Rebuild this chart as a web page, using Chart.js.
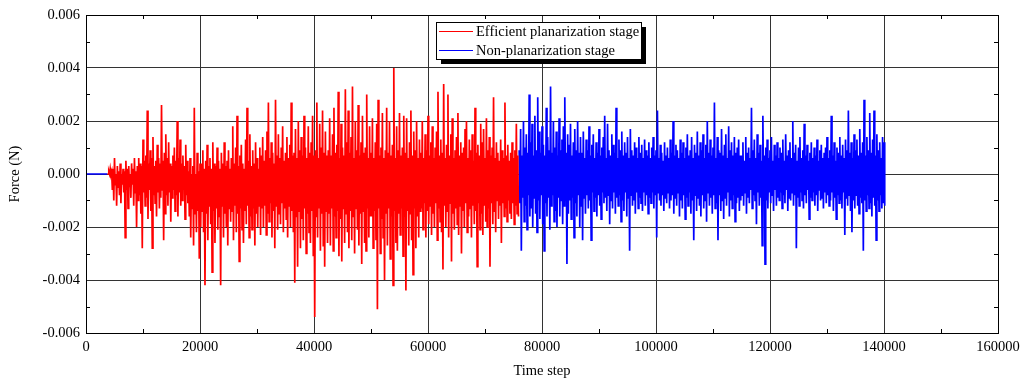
<!DOCTYPE html>
<html lang="en">
<head>
    <meta charset="UTF-8">
    <title>Force vs time step</title>
    <script src="https://cdn.jsdelivr.net/npm/chart.js"></script>
    <style>
        body { margin: 0; background: #fff; }
        canvas { display: block; }
    </style>
</head>
<body>
    <canvas id="forceChart" width="1030" height="383"></canvas>

    <script>
        // time axis sampling: each bin holds the local max and min of the signal
        const redStart = 3750;
        const blueStart = 76000;
        const binStep = 250;

        // force values, in units of 1e-4 N
        const redHigh = [
            0, 1, 2,
            1, 2, 6, 0, 3, 1, 4, 0, 2, 1, 5, 2, 3, 0, 4, 2, 6, 1, 3,
            6, 4, 3, 13, 5, 7, 24, 4, 9, 6, 14, 3, 5, 11, 6, 4, 26, 5, 8, 15, 6, 12, 4, 3,
            7, 10, 5, 20, 6, 13, 4, 7, 3, 11, 5,
            1, 6, 0, 3, 25, 0, 8, 1, 4,
            4, 9, 2, 5, 11, 3, 6, 2, 12, 4, 3, 10, 5, 2, 8, 4, 12, 3, 5, 9,
            2, 6, 18, 4, 10, 22, 3, 7, 11, 4, 2, 13, 25, 5, 15, 3, 9, 4, 12, 6, 2, 10,
            7, 14, 5, 9, 16, 27, 6, 12, 8, 4, 28, 7, 15, 6, 10, 18, 5, 8, 14, 6, 11, 27, 7,
            8, 17, 6, 20, 9, 14, 7, 22, 10, 6, 18, 8, 12, 22, 7, 9, 27, 6, 19, 10, 24, 8, 16, 7,
            9, 21, 7, 15, 25, 8, 11, 31, 6, 19, 10, 7, 32, 12, 24, 8, 14, 33, 6, 20,
            9, 26, 7, 12, 22, 8, 10, 30, 6, 18,
            8, 21, 6, 12, 19, 28, 7, 10, 23, 6, 9, 25, 8, 20, 7, 11, 40, 6, 18, 9,
            23, 7, 10, 22, 8, 21, 6, 12, 24, 7, 16, 9, 20, 6, 13,
            8, 20, 6, 15, 9, 22, 7, 12, 18, 6, 10, 16, 31, 7, 13, 8, 34, 6, 11, 30,
            7, 15, 21, 6, 9, 14, 23, 7, 12, 8, 10, 17, 20, 6, 13, 9, 15, 5, 25, 8,
            11, 7, 19, 12, 17, 6, 21, 9, 14, 7, 10, 29, 6, 12, 8, 5, 13, 9, 6, 27,
            7, 11, 5, 8, 12, 6, 9, 19, 7
        ];
        const redLow = [
            0, 0, 0,
            -6, -10, -4, -12, -5, -8, -11, -4, -7, -24, -6, -13, -5, -9, -4, -12, -7, -20, -10,
            -8, -15, -28, -7, -12, -9, -17, -6, -14, -28, -8, -11, -16, -7, -13, -9, -6, -25, -15, -8,
            -12, -7, -18, -9, -6, -14, -8, -16, -7, -12, -10, -6, -17, -8, -11,
            -16, -24, -13, -27, -15, -22, -14, -32, -20,
            -14, -22, -42, -15, -25, -12, -19, -37, -14, -26, -13, -21, -16, -42, -12, -24, -15, -20, -27, -13,
            -18, -14, -25, -12, -22, -15, -33, -13, -21, -26, -14, -19, -12, -24, -16, -21, -13, -27, -15, -20, -12, -23,
            -13, -20, -12, -23, -15, -18, -11, -24, -14, -28, -12, -21, -15, -19, -11, -22, -13, -17, -24, -12, -20, -14, -22,
            -41, -16, -35, -14, -28, -17, -25, -13, -30, -15, -22, -26, -14, -31, -54, -16, -24, -13, -29, -15, -27, -35, -14, -26,
            -15, -27, -13, -29, -16, -24, -14, -31, -17, -33, -13, -26, -15, -22, -28, -14, -25, -16, -30, -13,
            -21, -27, -15, -34, -14, -26, -29, -13, -24, -16,
            -16, -28, -14, -25, -51, -13, -30, -17, -24, -40, -15, -27, -13, -32, -16, -42, -14, -26, -29, -15,
            -23, -13, -31, -16, -44, -14, -27, -15, -25, -38, -13, -28, -16, -24, -14,
            -13, -21, -11, -24, -14, -19, -12, -23, -15, -20, -11, -25, -13, -18, -22, -36, -12, -20, -14, -24,
            -11, -33, -15, -21, -13, -19, -23, -12, -30, -14, -20, -11, -22, -16, -13, -24, -12, -19, -14, -35,
            -11, -21, -15, -23, -12, -18, -20, -13, -35, -11, -19, -14, -22, -10, -17, -12, -26, -11, -16, -13,
            -18, -10, -15, -17, -11, -19, -12, -15, -16
        ];

        const blueHigh = [
            9, 17, 7, 20, 10, 15, 8, 30, 12, 19, 7, 22, 9, 29, 16, 8, 18, 11, 7, 25,
            14, 9, 33, 8, 20, 10, 16, 7, 21, 9, 13, 18, 29, 8, 15, 11, 19, 7, 12, 17, 9, 20, 8, 14,
            8, 16, 6, 13, 9, 18, 7, 11, 15, 6, 12, 8, 17, 7, 10, 14, 22, 6, 19, 9,
            7, 15, 11, 8, 25, 6, 13, 9, 16, 7, 12, 8, 14, 6, 17, 9, 7, 12, 10, 6,
            14, 8, 11, 6, 13, 9, 7, 12, 6, 10, 14, 7, 9, 24, 6, 11, 8, 5, 12, 7,
            10, 6, 13, 8, 20, 7, 11, 9, 6, 13, 8, 12, 6, 10, 15, 7, 9, 14, 6, 11,
            8, 16, 7, 12, 9, 15, 6, 11, 20, 8, 13, 7, 10, 27, 6, 14, 9, 8, 17, 7,
            11, 15, 6, 18, 9, 12, 7, 14, 8, 10, 13, 7,
            7, 12, 5, 14, 8, 10, 6, 25, 9, 13, 6, 15, 8, 11, 5, 22, 7, 10, 13, 6,
            9, 14, 5, 11, 7, 12, 6, 10, 8, 13, 5, 15, 7, 9, 12, 6, 20, 8, 11, 5,
            10, 14, 6, 9, 19, 7, 11, 5, 8, 12, 6, 10, 7, 13, 5, 9, 11, 6, 8, 10,
            14, 6, 9, 22, 7, 12, 5, 10, 8, 14, 7, 11, 6, 13, 9, 24, 8, 12, 6, 15,
            9, 13, 7, 17, 8, 12, 28, 7, 14, 9, 23, 8, 13, 24, 7, 15, 9, 12, 6, 14, 12
        ];
        const blueLow = [
            -11, -29, -9, -18, -12, -21, -8, -16, -13, -20, -9, -15, -22, -10, -17, -8, -19, -29, -11, -16,
            -9, -21, -12, -8, -18, -14, -20, -9, -16, -10, -19, -12, -8, -34, -15, -10, -17, -9, -24, -11,
            -16, -8, -20, -12,
            -25, -9, -15, -8, -13, -10, -25, -7, -14, -9, -16, -8, -12, -17, -7, -11, -9, -14, -8, -19,
            -10, -13, -7, -15, -9, -12, -8, -18, -10, -14, -7, -16, -9, -29, -8, -12, -10, -15, -7, -13,
            -9, -11, -14, -7, -12, -8, -15, -9, -11, -7, -13, -8, -24, -7, -10, -12, -8, -14, -9, -11,
            -7, -13, -10, -8, -15, -9, -12, -7, -16, -10, -13, -8, -17, -9, -12, -7, -15, -10, -25, -8,
            -14, -9, -12, -16, -8, -13, -10, -18, -7, -12, -9, -15, -8, -13, -11, -25, -8, -14, -10, -17,
            -9, -12, -7, -16, -10, -13, -8, -18, -11, -9, -14, -10,
            -8, -12, -7, -15, -9, -11, -6, -13, -8, -10, -19, -7, -12, -9, -27, -8, -34, -10, -13, -7,
            -11, -8, -14, -6, -12, -9, -10, -7, -13, -8, -11, -6, -14, -9, -10, -7, -12, -8, -28, -9,
            -12, -7, -10, -13, -8, -11, -6, -17, -9, -10, -7, -12, -8, -14, -6, -10, -9, -13, -7, -11,
            -8, -12, -10, -7, -14, -9, -17, -8, -11, -10, -13, -7, -23, -9, -12, -8, -14, -22, -10, -13,
            -8, -12, -15, -9, -11, -29, -10, -14, -8, -13, -11, -16, -9, -12, -25, -10, -14, -8, -13, -11, -12
        ];

        // flat blue lead-in before the red stage starts
        const blueLeadSteps = [0, 3750];
        const blueLeadForce = [0, 0];

        const xTicks = [0, 20000, 40000, 60000, 80000, 100000, 120000, 140000, 160000];
        const yTicks = [-0.006, -0.004, -0.002, 0, 0.002, 0.004, 0.006];
        const xMinor = [10000, 30000, 50000, 70000, 90000, 110000, 130000, 150000];
        const yMinor = [-0.005, -0.003, -0.001, 0.001, 0.003, 0.005];

        const seriesLabels = ["Efficient planarization stage", "Non-planarization stage"];

        // each bin gives its high then its low value, half a bin apart
        function binsToPoints(start, highs, lows) {
            const pts = [];
            const n = Math.min(highs.length, lows.length);
            for (let k = 0; k < n; k++) {
                pts.push({ x: start + k * binStep, y: highs[k] * 1e-4 });
                pts.push({ x: start + k * binStep + binStep / 2, y: lows[k] * 1e-4 });
            }
            return pts;
        }

        const redPoints = binsToPoints(redStart, redHigh, redLow);
        const bluePoints = blueLeadSteps.map((s, i) => ({ x: s, y: blueLeadForce[i] }))
            .concat([{ x: blueLeadSteps[1] + 1, y: null }])
            .concat(binsToPoints(blueStart, blueHigh, blueLow));

        const serif = "'Liberation Serif', 'Times New Roman', serif";
        Chart.defaults.font.family = serif;
        Chart.defaults.color = "#000";

        // frame, minor ticks and the boxed legend with its drop shadow
        const decorations = {
            id: "decorations",
            afterDraw(chart) {
                const ctx = chart.ctx;
                const area = chart.chartArea;
                const xs = chart.scales.x, ys = chart.scales.y;
                ctx.save();
                ctx.strokeStyle = "#000";
                ctx.lineWidth = 1;
                ctx.strokeRect(Math.round(area.left) + 0.5, Math.round(area.top) + 0.5,
                    Math.round(area.right - area.left), Math.round(area.bottom - area.top));

                ctx.beginPath();
                xMinor.forEach(v => {
                    const px = Math.round(xs.getPixelForValue(v)) + 0.5;
                    ctx.moveTo(px, area.bottom); ctx.lineTo(px, area.bottom - 4);
                    ctx.moveTo(px, area.top); ctx.lineTo(px, area.top + 4);
                });
                yMinor.forEach(v => {
                    const py = Math.round(ys.getPixelForValue(v)) + 0.5;
                    ctx.moveTo(area.left, py); ctx.lineTo(area.left + 4, py);
                    ctx.moveTo(area.right, py); ctx.lineTo(area.right - 4, py);
                });
                ctx.stroke();

                // legend
                const lx = 436, ly = 22, lw = 205, lh = 37;
                ctx.fillStyle = "#000";
                ctx.fillRect(lx + 5, ly + 5, lw, lh);
                ctx.fillStyle = "#fff";
                ctx.fillRect(lx, ly, lw, lh);
                ctx.strokeRect(lx + 0.5, ly + 0.5, lw, lh);
                ctx.font = "14.5px " + serif;
                ctx.textBaseline = "middle";
                chart.data.datasets.forEach((ds, i) => {
                    const y = ly + 9.5 + i * 19;
                    ctx.strokeStyle = ds.borderColor;
                    ctx.lineWidth = 1;
                    ctx.beginPath();
                    ctx.moveTo(lx + 3, y); ctx.lineTo(lx + 37, y);
                    ctx.stroke();
                    ctx.fillStyle = "#000";
                    ctx.fillText(ds.label, lx + 40, y + 1);
                });
                ctx.restore();
            }
        };

        new Chart(document.getElementById("forceChart").getContext("2d"), {
            type: "line",
            data: {
                datasets: [
                    {
                        label: seriesLabels[0],
                        data: redPoints,
                        borderColor: "#ff0000",
                        borderWidth: 1.7,
                        pointRadius: 0,
                        tension: 0
                    },
                    {
                        label: seriesLabels[1],
                        data: bluePoints,
                        borderColor: "#0000ff",
                        borderWidth: 1.7,
                        pointRadius: 0,
                        tension: 0,
                        spanGaps: false
                    }
                ]
            },
            options: {
                responsive: false,
                animation: false,
                events: [],
                layout: { padding: { top: 15, right: 32, left: 0, bottom: 0 } },
                plugins: { legend: { display: false }, tooltip: { enabled: false } },
                scales: {
                    x: {
                        type: "linear",
                        min: 0,
                        max: 160000,
                        afterBuildTicks: s => { s.ticks = xTicks.map(v => ({ value: v })); },
                        afterFit: s => { s.height = 50; },
                        ticks: { callback: v => String(v), font: { size: 14.5 }, padding: 5, maxRotation: 0, autoSkip: false },
                        grid: { color: "#333", lineWidth: 1, drawTicks: false },
                        border: { color: "#000" },
                        title: { display: true, text: "Time step", font: { size: 14.5 }, padding: { top: 0, bottom: 3 } }
                    },
                    y: {
                        min: -0.006,
                        max: 0.006,
                        afterBuildTicks: s => { s.ticks = yTicks.map(v => ({ value: v })); },
                        afterFit: s => { s.width = 86; },
                        ticks: { callback: v => v.toFixed(3), font: { size: 14.5 }, padding: 6 },
                        grid: { color: "#333", lineWidth: 1, drawTicks: false },
                        border: { color: "#000" },
                        title: { display: true, text: "Force (N)", font: { size: 14.5 }, padding: { top: 6, bottom: 0 } }
                    }
                }
            },
            plugins: [decorations]
        });
    </script>
</body>
</html>
